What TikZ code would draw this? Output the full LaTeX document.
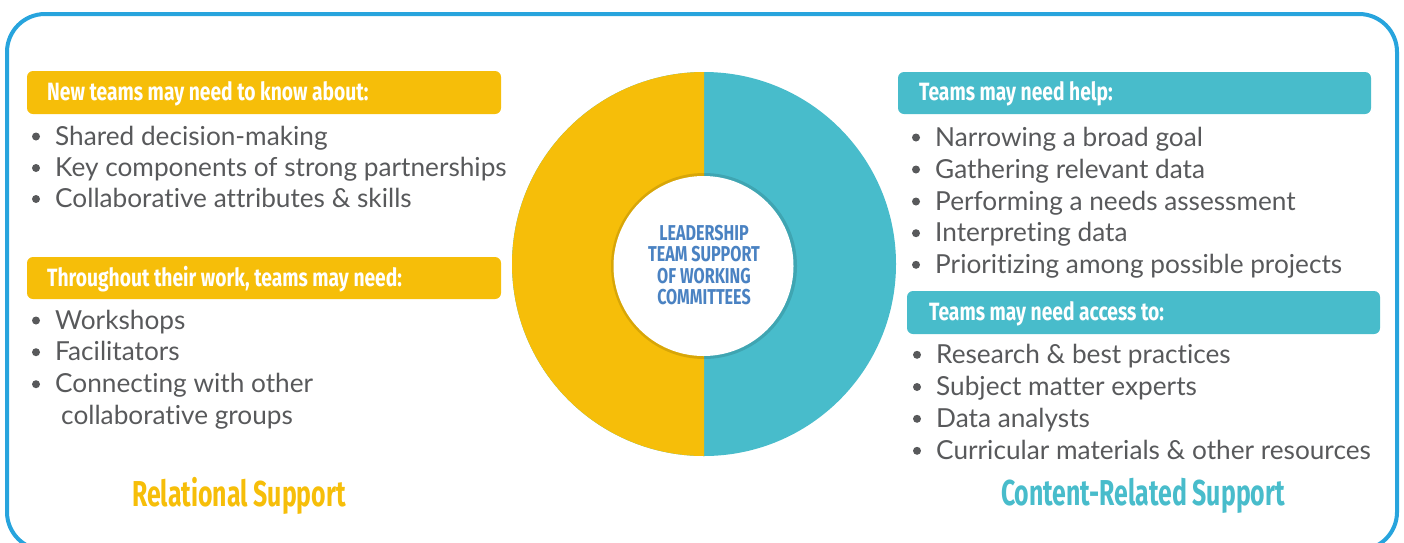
\documentclass[tikz,border=0pt]{standalone}
\usepackage{fontspec}
\setmainfont[Ligatures={NoCommon,NoRare}]{Lato}
\newfontfamily\hfont[FakeStretch=0.77]{Fira Sans}
\newfontfamily\tfont[FakeStretch=0.69]{Fira Sans}
\newfontfamily\cfont[FakeStretch=0.75]{Fira Sans}
\definecolor{ylw}{HTML}{F6BE09}
\definecolor{tealc}{HTML}{48BCCB}
\definecolor{bordc}{HTML}{27A4DD}
\definecolor{txt}{HTML}{58595B}
\definecolor{ctr}{HTML}{4A82C2}
\tikzset{
  hdrbox/.style={rounded corners=6pt},
  hdr/.style={anchor=base west, inner sep=0pt, text=white, font=\hfont\bfseries\fontsize{25}{25}\selectfont},
  item/.style={anchor=base west, inner sep=0pt, text=txt, font=\fontsize{26.2}{26.2}\selectfont},
  dotb/.style={circle, fill=txt, minimum size=8pt, inner sep=0pt},
  ttl/.style={anchor=base, inner sep=0pt, font=\tfont\bfseries\fontsize{36}{36}\selectfont},
}
\begin{document}
\begin{tikzpicture}[x=1pt,y=-1pt]
\useasboundingbox (0,0) rectangle (1404,542);
% border
\draw[bordc, line width=4pt, rounded corners=38pt] (7,14) rectangle (1397,550);
% donut
\fill[tealc] (704,264) circle[radius=192pt];
\begin{scope}
  \clip (500,60) rectangle (704,470);
  \fill[ylw] (704,264) circle[radius=192pt];
\end{scope}
\fill[black, opacity=0.12] (704,266) circle[radius=93pt];
\node[circle, fill=white, minimum size=180pt, inner sep=0pt] (core) at (703.5,266) {};
\node[align=center, text=ctr, font=\cfont\bfseries\fontsize{21.5}{22}\selectfont, inner sep=0pt] (coretxt) at (704,265)
  {LEADERSHIP\\[-0.5pt]TEAM SUPPORT\\[-0.5pt]OF WORKING\\[-0.5pt]COMMITTEES};
% header boxes
\fill[ylw, hdrbox] (27,71) rectangle (501,114);
\fill[ylw, hdrbox] (27,257) rectangle (501,299);
\fill[tealc, hdrbox] (898,72) rectangle (1371,114);
\fill[tealc, hdrbox] (907,291) rectangle (1380,334);
\node[hdr] (h1) at (47,100) {New teams may need to know about:};
\node[hdr] (h2) at (47,286.5) {Throughout their work, teams may need:};
\node[hdr] (h3) at (919,100) {Teams may need help:};
\node[hdr] (h4) at (929,320.5) {Teams may need access to:};
% left items
\foreach \y/\t [count=\i] in {145/Shared decision-making, 176.5/Key components of strong partnerships, 207.5/Collaborative attributes \& skills}{
  \node[item] (la\i) at (55,\y) {\t};
  \node[dotb] (lad\i) at (36,\y-8.5) {};
}
\foreach \y/\t [count=\i] in {329/Workshops, 360.7/Facilitators, 392.7/Connecting with other}{
  \node[item] (lb\i) at (55,\y) {\t};
  \node[dotb] (lbd\i) at (36,\y-8.5) {};
}
\node[item] (lb4) at (61,424) {collaborative groups};
% right items
\foreach \y/\t [count=\i] in {146/Narrowing a broad goal, 178/Gathering relevant data, 210/Performing a needs assessment, 241.7/Interpreting data, 273.3/Prioritizing among possible projects}{
  \node[item] (ra\i) at (935,\y) {\t};
  \node[dotb] (rad\i) at (916,\y-8.5) {};
}
\foreach \y/\t [count=\i] in {363.3/Research \& best practices, 395.5/Subject matter experts, 427.3/Data analysts, 459.3/Curricular materials \& other resources}{
  \node[item] (rb\i) at (936,\y) {\t};
  \node[dotb] (rbd\i) at (917,\y-8.5) {};
}
% titles
\node[ttl, text=ylw] (t1) at (239,506.5) {Relational Support};
\node[ttl, text=tealc] (t2) at (1143,505) {Content-Related Support};
\end{tikzpicture}
\end{document}
